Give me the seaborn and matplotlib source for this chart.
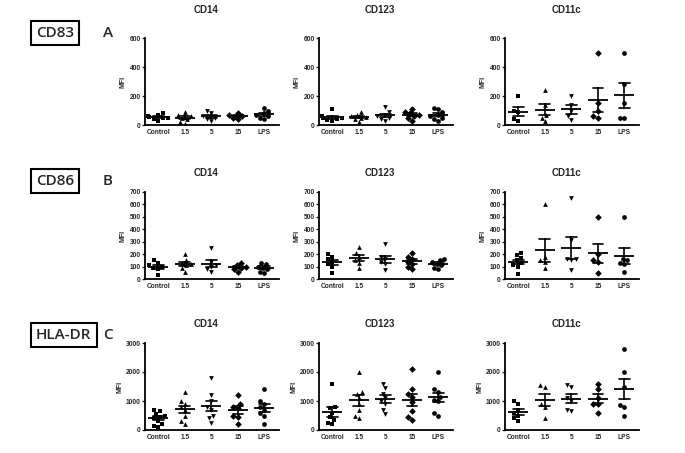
"""
MFI of CD83 / CD86 / HLA-DR on CD14, CD123 and CD11c cells (mean +/- SEM scatter).
"""

import numpy as np
import pandas as pd
import matplotlib
matplotlib.use('Agg')
import matplotlib.pyplot as plt
import seaborn as sns

sns.set_style('ticks')
plt.rcParams['font.family'] = ['Liberation Sans', 'DejaVu Sans']

groups = ['Control', '1.5', '5', '15', 'LPS']
group_markers = ['s', '^', 'v', 'D', 'o']
cell_types = ['CD14', 'CD123', 'CD11c']

# CD83 (row A)
cd83_cd14 = [[80, 70, 60, 55, 50, 45, 40, 30],
             [90, 70, 60, 50, 40, 20, 10],
             [100, 80, 60, 50, 40, 30],
             [85, 70, 60, 50, 40],
             [120, 100, 80, 70, 60, 50, 40]]
cd83_cd123 = [[110, 60, 50, 45, 40, 35, 30],
              [90, 70, 60, 55, 50, 40, 20],
              [125, 90, 70, 60, 50, 40, 30],
              [110, 90, 80, 70, 60, 50, 30],
              [120, 110, 90, 70, 60, 50, 40, 30]]
cd83_cd11c = [[200, 100, 90, 40, 30],
              [240, 140, 70, 50, 25],
              [200, 140, 100, 60, 35],
              [500, 150, 100, 60, 45],
              [500, 280, 150, 50, 45]]

# CD86 (row B)
cd86_cd14 = [[150, 130, 110, 100, 90, 80, 30],
             [200, 150, 130, 120, 110, 90, 60],
             [250, 140, 110, 100, 80, 60],
             [130, 110, 100, 90, 80, 60],
             [130, 120, 100, 90, 80, 60, 50]]
cd86_cd123 = [[200, 180, 160, 140, 120, 100, 50],
              [260, 210, 180, 150, 130, 90],
              [280, 180, 160, 140, 120, 70],
              [210, 180, 160, 140, 120, 100, 80],
              [160, 150, 140, 120, 110, 90, 80]]
cd86_cd11c = [[210, 190, 170, 150, 130, 110, 100, 40],
              [600, 180, 150, 140, 90],
              [650, 310, 160, 160, 150, 70],
              [500, 200, 150, 140, 50],
              [500, 160, 150, 130, 120, 60]]

# HLA-DR (row C)
hladr_cd14 = [[700, 650, 550, 500, 450, 400, 300, 200, 150, 100],
              [1300, 1000, 900, 800, 700, 500, 300, 200],
              [1800, 1200, 1000, 800, 700, 500, 400, 250],
              [1200, 900, 800, 750, 500, 450, 200],
              [1400, 1000, 900, 800, 700, 600, 500, 200]]
hladr_cd123 = [[1600, 800, 750, 600, 450, 350, 250, 200],
               [2000, 1300, 1250, 1100, 900, 700, 500, 400],
               [1600, 1450, 1250, 1100, 1000, 900, 700, 550],
               [2100, 1400, 1250, 1150, 950, 650, 450, 350],
               [2000, 1400, 1300, 1150, 1050, 1000, 600, 500]]
hladr_cd11c = [[1000, 900, 700, 600, 500, 400, 300],
               [1550, 1500, 900, 800, 400],
               [1550, 1500, 1100, 1000, 700, 650],
               [1600, 1400, 1100, 900, 900, 600],
               [2800, 2000, 1500, 850, 800, 500]]

rows = [
    ('CD83', 'A', [cd83_cd14, cd83_cd123, cd83_cd11c], [0, 200, 400, 600]),
    ('CD86', 'B', [cd86_cd14, cd86_cd123, cd86_cd11c], [0, 100, 200, 300, 400, 500, 600, 700]),
    ('HLA-DR', 'C', [hladr_cd14, hladr_cd123, hladr_cd11c], [0, 1000, 2000, 3000]),
]

W, H = 685, 453
col_left = [145, 319, 505]
ax_w = 134
row_top = [38, 192, 343]
ax_h = 87
title_y = [10, 173, 324]
label_y = [33, 181, 335]


def px_rect(left, top, w, h):
    return [left / W, 1 - (top + h) / H, w / W, h / H]


def plot_panel(ax, data, yticks):
    df = pd.DataFrame({
        'group': [g for g, vals in zip(groups, data) for _ in vals],
        'MFI': [v for vals in data for v in vals],
    })
    # individual points, one marker shape per group
    for g, m in zip(groups, group_markers):
        sub = df[df['group'] == g]
        sns.swarmplot(x=sub['group'], y=sub['MFI'], order=groups, ax=ax,
                      color='black', marker=m, size=3.4, linewidth=0, warn_thresh=1)
    # mean line + SEM whiskers
    sns.pointplot(data=df, x='group', y='MFI', order=groups, ax=ax,
                  errorbar='se', capsize=0.4, color='black',
                  markers='_', linestyles='none', markersize=15,
                  markeredgewidth=1.3, err_kws={'linewidth': 1.2})

    ax.set_xlim(-0.5, 4.55)
    ax.set_ylim(0, yticks[-1])
    ax.set_yticks(yticks)
    ax.set_xlabel('')
    ax.set_ylabel('MFI', fontsize=5, fontweight='bold', labelpad=2)
    ax.set_xticks(range(len(groups)))
    ax.set_xticklabels(groups)
    ax.tick_params(axis='x', length=0, pad=3, labelsize=4.8)
    ax.tick_params(axis='y', length=2, width=1, pad=1, labelsize=4.8)
    for lab in ax.get_xticklabels() + ax.get_yticklabels():
        lab.set_fontweight('bold')
    sns.despine(ax=ax)
    for side in ['left', 'bottom']:
        ax.spines[side].set_linewidth(1.3)
        ax.spines[side].set_color('black')


fig = plt.figure(figsize=(W / 100, H / 100), dpi=100)

for r, (marker_name, letter, panels, yticks) in enumerate(rows):
    for c, data in enumerate(panels):
        ax = fig.add_axes(px_rect(col_left[c], row_top[r], ax_w, ax_h))
        plot_panel(ax, data, yticks)
        fig.text((col_left[c] + ax_w / 2 - 6) / W, 1 - title_y[r] / H, cell_types[c],
                 ha='center', va='center', fontsize=7, fontweight='bold')

    fig.text(36 / W, 1 - label_y[r] / H, marker_name, ha='left', va='center',
             fontsize=11, fontweight='semibold', family=['Open Sans', 'DejaVu Sans'],
             bbox=dict(boxstyle='square,pad=0.35', fc='white', ec='black', lw=1.5))
    fig.text(103 / W, 1 - label_y[r] / H, letter, ha='left', va='center',
             fontsize=11, fontweight='semibold', family=['Open Sans', 'DejaVu Sans'])

plt.savefig('out.png', dpi=100)
plt.close()
